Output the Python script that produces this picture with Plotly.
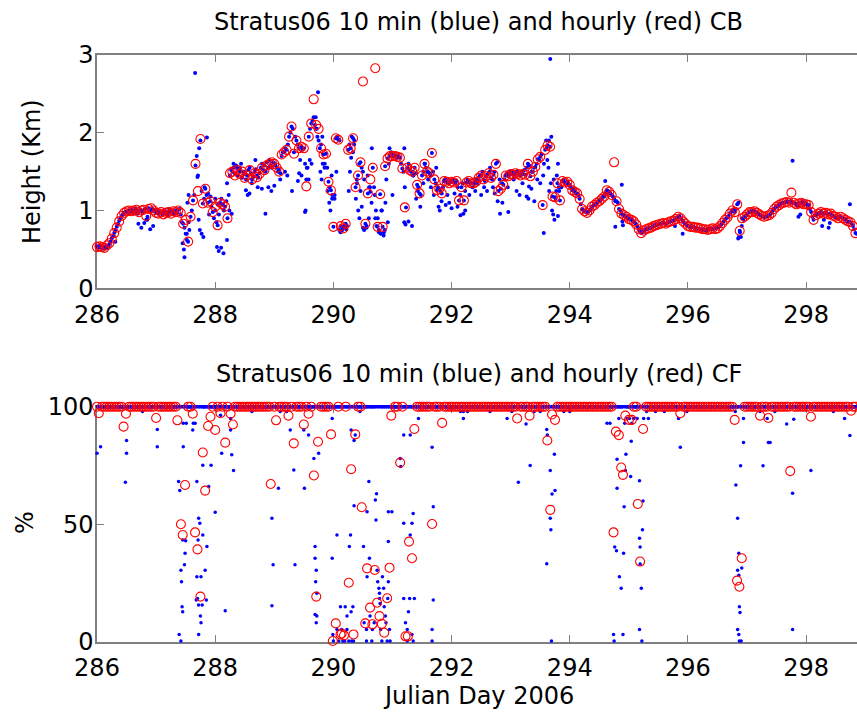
import numpy as np
import plotly.graph_objects as go

# ---------------- DATA ----------------
# Cloud base (km), hourly (red), one list per Julian day (hour 0..23)
cb_hourly_286 = [0.53,0.54,0.53,0.52,0.55,0.58,0.64,0.71,0.78,0.86,0.93,0.97,0.99,1.00,0.99,1.00,1.01,0.98,1.00,1.01,0.93,1.02,1.03,1.00]
cb_hourly_287 = [0.97,0.96,0.98,0.95,0.97,0.98,0.96,0.99,0.98,1.00,0.97,0.83,0.88,0.60,0.92,1.13,1.60,1.25,1.92,1.09,1.28,1.10,1.12,0.98]
cb_hourly_288 = [1.05,0.81,1.10,1.08,1.05,0.90,1.48,1.50,1.45,1.52,1.47,1.50,1.42,1.45,1.52,1.40,1.48,1.43,1.47,1.55,1.52,1.58,1.60,1.62]
cb_hourly_289 = [1.60,1.55,1.50,1.72,1.75,1.78,1.95,2.08,1.73,1.90,1.80,1.82,1.80,1.31,1.95,2.12,2.43,2.10,2.05,1.80,1.72,1.73,1.37,1.26]
cb_hourly_290 = [0.79,1.93,1.91,0.80,0.77,0.83,1.78,1.80,1.93,1.30,1.45,1.62,2.66,0.83,1.22,1.40,1.55,2.83,0.79,1.21,0.79,1.57,1.67,1.70]
cb_hourly_291 = [1.70,1.70,1.69,1.68,1.54,1.04,1.55,1.52,1.50,1.55,1.33,1.22,1.45,1.60,1.50,1.48,1.74,1.40,1.26,1.28,1.22,1.38,1.37,1.35]
cb_hourly_292 = [1.37,1.36,1.38,1.13,1.30,1.13,1.36,1.38,1.35,1.35,1.37,1.42,1.45,1.40,1.44,1.48,1.42,1.46,1.60,1.25,1.28,1.33,1.45,1.44]
cb_hourly_293 = [1.47,1.46,1.48,1.47,1.45,1.47,1.46,1.60,1.44,1.50,1.56,1.66,1.69,1.07,1.78,1.84,1.82,1.18,1.17,1.35,1.13,1.38,1.36,1.37]
cb_hourly_294 = [1.33,1.26,1.24,1.22,1.15,1.02,0.99,0.97,1.00,1.05,1.07,1.10,1.12,1.15,1.18,1.26,1.24,1.20,1.62,1.12,1.02,0.96,0.94,0.92]
cb_hourly_295 = [0.89,0.88,0.86,0.82,0.76,0.71,0.74,0.76,0.77,0.78,0.80,0.81,0.82,0.83,0.84,0.83,0.85,0.86,0.87,0.89,0.92,0.90,0.86,0.83]
cb_hourly_296 = [0.80,0.79,0.79,0.78,0.78,0.77,0.76,0.76,0.75,0.76,0.77,0.76,0.77,0.80,0.84,0.88,0.91,0.96,1.00,0.98,1.08,0.74,0.90,0.92]
cb_hourly_297 = [0.95,0.98,0.98,0.99,0.97,0.95,0.93,0.92,0.93,0.94,0.97,1.02,1.05,1.07,1.09,1.10,1.11,1.10,1.23,1.10,1.08,1.09,1.10,1.08]
cb_hourly_298 = [1.08,1.07,0.98,0.88,0.94,0.96,0.98,0.96,0.97,0.95,0.96,0.93,0.92,0.90,0.92,0.90,0.88,0.86,0.85,0.80,0.71]

# Cloud base (km), 10-min product (blue) read every 30 min along the main band
cb_10min_286 = [0.54,0.52,0.53,0.55,0.52,0.51,0.53,0.54,0.52,0.54,0.57,0.60,
                0.64,0.67,0.71,0.75,0.79,0.83,0.87,0.90,0.93,0.95,0.97,0.98,
                0.98,0.99,1.00,0.98,1.01,0.99,0.97,1.02,1.00,0.96,0.99,1.01,
                1.00,0.97,1.00,1.02,0.88,0.92,1.03,1.00,0.99,1.02,1.00,1.01]
cb_10min_287 = [0.97,0.99,0.96,0.98,0.97,0.95,0.98,1.00,0.96,0.94,0.98,1.01,
                0.97,0.99,0.96,0.98,1.00,0.97,1.01,1.02,0.95,0.85,0.83,0.78,
                0.70,0.62,0.60,0.75,0.92,1.00,1.13,1.20,1.58,1.70,1.45,1.80,
                1.90,1.25,1.09,1.15,1.28,1.20,1.10,0.95,1.12,1.05,0.98,0.90]
cb_10min_288 = [1.00,0.85,0.81,0.95,1.10,1.15,1.08,1.00,1.05,1.12,0.90,1.20,
                1.45,1.52,1.50,1.55,1.48,1.58,1.45,1.52,1.55,1.60,1.42,1.50,
                1.47,1.40,1.45,1.52,1.55,1.48,1.40,1.43,1.50,1.53,1.45,1.42,
                1.48,1.55,1.60,1.52,1.58,1.50,1.62,1.55,1.65,1.58,1.55,1.62]
cb_10min_289 = [1.60,1.58,1.55,1.50,1.52,1.48,1.70,1.75,1.75,1.80,1.78,1.85,
                1.95,2.00,2.08,2.05,1.75,1.95,1.90,1.85,1.80,1.65,1.82,1.78,
                1.80,1.60,1.40,1.55,1.95,2.05,2.12,2.15,2.20,2.10,2.05,1.95,
                1.90,1.80,1.85,1.95,1.72,1.60,1.73,1.55,1.37,1.30,1.26,1.15]
cb_10min_290 = [0.79,1.20,1.93,1.95,1.91,1.90,0.80,0.75,0.77,0.78,0.83,0.80,
                1.78,1.85,1.80,1.95,1.93,1.90,1.30,1.40,1.45,1.60,1.62,1.55,
                1.50,1.40,0.83,0.80,1.22,1.30,1.24,1.10,1.55,1.30,0.90,0.80,
                0.79,0.75,1.21,1.00,0.79,0.72,1.57,1.40,1.67,1.60,1.70,1.72]
cb_10min_291 = [1.70,1.72,1.70,1.68,1.69,1.70,1.68,1.60,1.54,1.50,1.30,1.04,
                1.55,1.60,1.52,1.50,1.50,1.45,1.55,1.48,1.33,1.30,1.22,1.20,
                1.45,1.50,1.60,1.55,1.50,1.40,1.48,1.45,1.74,1.50,1.40,1.35,
                1.26,1.30,1.28,1.25,1.22,1.30,1.38,1.40,1.37,1.35,1.35,1.38]
cb_10min_292 = [1.37,1.40,1.36,1.35,1.38,1.30,1.13,1.20,1.30,1.35,1.13,1.25,
                1.36,1.40,1.38,1.35,1.35,1.30,1.35,1.40,1.37,1.35,1.42,1.45,
                1.45,1.50,1.40,1.38,1.44,1.46,1.48,1.50,1.42,1.40,1.46,1.50,
                1.60,1.62,1.25,1.40,1.28,1.35,1.33,1.40,1.45,1.48,1.44,1.50]
cb_10min_293 = [1.47,1.50,1.46,1.45,1.48,1.50,1.47,1.45,1.45,1.50,1.47,1.52,
                1.46,1.55,1.60,1.58,1.44,1.50,1.50,1.55,1.56,1.60,1.66,1.65,
                1.69,1.72,1.07,1.60,1.78,1.80,1.84,1.90,1.82,1.95,1.18,1.40,
                1.17,1.25,1.35,1.30,1.13,1.30,1.38,1.40,1.36,1.35,1.37,1.33]
cb_10min_294 = [1.33,1.30,1.26,1.28,1.24,1.22,1.22,1.20,1.15,1.08,1.02,1.00,
                0.99,0.98,0.97,0.98,1.00,1.02,1.05,1.06,1.07,1.08,1.10,1.12,
                1.12,1.14,1.15,1.18,1.18,1.22,1.26,1.25,1.24,1.22,1.20,1.18,
                1.15,1.12,1.12,1.10,1.02,1.00,0.96,0.95,0.94,0.93,0.92,0.90]
cb_10min_295 = [0.89,0.90,0.88,0.87,0.86,0.84,0.82,0.79,0.76,0.73,0.71,0.72,
                0.74,0.75,0.76,0.77,0.77,0.78,0.78,0.79,0.80,0.81,0.81,0.82,
                0.82,0.83,0.83,0.84,0.84,0.83,0.83,0.84,0.85,0.86,0.86,0.87,
                0.87,0.88,0.89,0.90,0.92,0.93,0.90,0.88,0.86,0.84,0.83,0.81]
cb_10min_296 = [0.80,0.79,0.79,0.80,0.79,0.78,0.78,0.77,0.77,0.76,0.76,0.75,
                0.76,0.76,0.75,0.74,0.76,0.77,0.77,0.76,0.76,0.77,0.77,0.78,
                0.78,0.79,0.80,0.82,0.84,0.86,0.88,0.90,0.91,0.93,0.96,0.98,
                1.00,1.01,0.98,1.02,1.08,1.10,0.74,0.66,0.90,0.88,0.92,0.93]
cb_10min_297 = [0.95,0.97,0.98,0.99,0.98,1.00,0.99,0.97,0.97,0.96,0.95,0.94,
                0.93,0.92,0.92,0.92,0.93,0.93,0.94,0.96,0.97,1.00,1.02,1.04,
                1.05,1.06,1.07,1.08,1.09,1.10,1.10,1.11,1.11,1.12,1.10,1.11,
                1.12,1.10,1.10,1.09,1.08,1.06,1.09,1.10,1.10,1.12,1.08,1.09]
cb_10min_298 = [1.08,1.06,1.07,1.02,0.98,0.92,0.88,0.94,0.94,0.95,0.96,0.97,
                0.98,0.96,0.96,0.97,0.97,0.95,0.95,0.96,0.96,0.93,0.93,0.92,
                0.92,0.90,0.90,0.92,0.92,0.91,0.90,0.89,0.88,0.86,0.86,0.85,
                0.85,0.83,0.80,0.76,0.71,0.70]

# scattered 10-min cloud-base values away from the main band: (julian day, km)
cb_10min_scatter = [
    (286.31,0.60),(286.70,0.83),(286.75,0.78),(286.80,0.84),(286.85,0.88),(286.90,0.76),(286.95,0.80),
    (287.45,0.58),(287.47,0.50),(287.48,0.40),(287.52,0.70),(287.53,1.10),(287.55,0.85),(287.55,1.20),
    (287.66,2.77),(287.70,1.43),(287.72,0.88),(287.74,0.75),(287.77,0.70),(287.80,0.66),(287.86,1.94),
    (287.82,1.30),(287.88,1.22),(287.92,1.18),(288.03,0.53),(288.06,0.48),(288.10,0.52),(288.14,0.45),
    (288.20,0.62),(288.00,1.15),(288.05,1.08),(288.20,1.35),(288.24,1.00),(288.28,0.96),(288.31,1.60),
    (288.36,1.55),(288.42,1.50),
    (288.52,1.26),(288.55,1.20),(288.58,1.22),(288.62,1.35),(288.68,1.65),(288.72,1.30),(288.79,1.28),
    (288.85,0.96),(288.90,1.30),(288.95,1.25),(289.00,1.32),(289.10,1.40),(289.18,1.50),(289.22,1.45),
    (289.30,1.25),(289.40,1.38),(289.42,1.48),(289.46,1.45),(289.52,0.98),(289.53,1.00),(289.55,1.55),
    (289.58,1.40),(289.60,1.65),(289.63,1.60),(289.74,2.52),(289.70,2.20),(289.72,2.05),(289.78,1.50),
    (289.80,1.40),(289.82,1.60),(289.85,1.55),(289.90,1.25),(289.93,1.10),(289.95,1.00),(289.97,1.45),
    (289.98,1.20),(290.02,1.15),(290.05,1.50),(290.10,0.75),(290.12,0.72),(290.14,0.74),(290.18,0.80),
    (290.22,0.76),(290.26,1.25),(290.28,1.50),(290.30,1.68),(290.35,1.85),(290.33,1.75),(290.38,1.15),
    (290.40,1.35),(290.42,1.00),(290.44,0.90),(290.46,1.25),(290.48,1.05),(290.50,0.78),(290.52,0.75),
    (290.56,0.78),(290.58,1.45),(290.60,0.90),(290.62,1.30),(290.65,1.80),(290.70,1.20),(290.72,1.00),
    (290.75,0.90),(290.77,0.72),(290.80,0.70),(290.82,1.00),(290.85,0.68),(290.87,0.75),(290.88,1.10),
    (290.92,0.85),(290.95,1.80),(290.98,1.75),(291.00,1.20),
    (291.20,1.80),(291.20,0.85),(291.22,0.82),(291.27,0.86),(291.33,0.80),(291.35,1.45),(291.40,1.15),
    (291.43,1.25),(291.47,1.05),(291.52,1.35),(291.55,1.60),(291.60,1.50),(291.65,1.30),(291.70,1.20),
    (291.74,1.55),(291.78,1.05),(291.80,1.00),(291.83,1.12),(291.87,1.38),(291.90,1.07),(291.93,1.20),
    (291.96,1.10),(292.00,1.03),(292.05,1.22),(292.10,1.05),(292.15,0.94),(292.20,0.96),(292.23,1.00),
    (292.30,1.20),(292.40,1.25),(292.45,1.40),(292.50,1.20),(292.55,1.30),(292.60,1.25),(292.65,1.55),
    (292.70,1.30),(292.73,1.22),(292.78,1.12),(292.82,0.96),(292.86,1.10),(292.96,0.98),(292.95,1.30),
    (293.05,1.40),(293.10,1.25),(293.15,1.20),(293.20,1.35),(293.27,1.18),(293.31,1.31),(293.30,1.15),
    (293.35,1.28),(293.40,1.12),(293.45,1.40),(293.50,1.35),(293.55,1.45),(293.56,0.71),(293.60,1.90),
    (293.62,1.65),(293.64,1.55),(293.65,1.25),(293.67,2.95),(293.68,1.35),(293.70,1.00),(293.72,0.95),
    (293.74,0.88),(293.76,1.15),(293.78,1.45),(293.80,0.93),(293.80,1.60),(293.82,1.25),(293.85,1.30),
    (294.60,1.38),(294.77,0.79),(294.88,1.33),(294.89,0.86),(294.90,0.81),
    (295.78,0.80),(295.91,0.70),
    (296.85,0.64),(296.86,0.66),(296.88,0.72),(296.91,0.80),
    (297.77,1.64),(297.87,0.92),(297.90,0.95),(298.27,0.80),(298.30,0.88),(298.38,0.78),(298.40,0.84),
    (298.74,1.08),
]

# Cloud fraction (%): 100 everywhere except the readings listed below (julian day, %)
cf_hourly_below100 = [
    (286.03,97.2),(286.45,91.5),(286.49,97.0),(287.00,95.2),(287.36,94.2),(287.42,50.0),(287.45,45.4),
    (287.49,66.7),(287.62,97.0),(287.66,46.5),(287.70,39.3),(287.75,19.2),(287.79,80.5),(287.83,64.3),
    (287.88,91.8),(287.92,95.7),(288.00,90.1),(288.09,97.2),(288.17,84.7),(288.26,97.0),(288.30,92.4),
    (288.94,67.1),(289.03,94.2),(289.24,96.2),(289.33,84.4),(289.50,92.4),(289.58,97.0),(289.67,70.7),
    (289.71,19.2),(289.74,85.1),(289.96,88.2),(289.99,0.3),(290.04,7.8),(290.12,3.1),(290.14,3.5),
    (290.18,2.7),(290.26,25.1),(290.30,73.4),(290.34,3.1),(290.37,88.2),(290.48,57.2),(290.54,7.8),
    (290.57,31.2),(290.62,14.5),(290.66,7.4),(290.70,30.5),(290.74,16.6),(290.78,10.9),(290.82,7.6),
    (290.86,3.8),(290.91,18.5),(290.95,31.5),(290.98,96.2),(291.13,76.2),(291.22,2.3),(291.26,2.3),
    (291.28,42.6),(291.33,35.5),(291.37,90.5),(291.67,50.1),(291.84,93.1),(293.11,95.0),(293.32,96.2),
    (293.62,85.6),(293.67,56.1),(293.70,96.7),(293.75,94.4),(294.74,46.5),(294.78,89.4),(294.83,87.9),
    (294.87,74.1),(294.90,71.0),(294.94,96.2),(295.00,94.4),(295.05,94.4),(295.15,58.6),(295.19,34.1),
    (295.24,90.5),(295.87,97.2),(296.79,94.4),(296.83,26.0),(296.87,23.4),(296.91,35.5),(297.22,96.2),
    (297.36,95.2),(297.73,72.6),(298.08,95.7),(298.76,98.3),
]
cf_10min_below100 = [
    (286.00,80.2),(286.06,83.0),(286.50,85.6),(286.50,80.2),(286.48,67.9),(286.77,97.9),(287.02,90.3),(287.02,83.0),
    (287.38,68.2),(287.40,64.3),(287.39,3.1),(287.42,0.3),(287.42,30.4),(287.43,25.5),(287.44,14.9),(287.45,12.8),
    (287.45,43.3),(287.49,37.6),(287.48,32.7),(287.50,43.0),(287.46,83.0),(287.46,93.0),(287.51,93.0),
    (287.62,90.1),(287.63,93.0),(287.66,93.0),(287.69,68.2),(287.69,27.6),(287.70,18.4),(287.71,43.3),(287.72,52.5),
    (287.74,50.4),(287.72,3.1),(287.75,10.9),(287.76,8.1),(287.68,17.7),(287.72,15.6),(287.78,15.6),(287.76,27.6),
    (287.79,75.1),(287.79,45.4),(287.83,30.4),(287.85,17.7),(287.86,40.5),(287.89,66.0),(287.93,75.1),
    (288.00,55.1),(288.09,96.4),(288.11,80.2),(288.17,13.2),(288.26,90.1),(288.28,79.5),(288.31,72.8),(288.26,95.0),
    (288.62,97.9),(288.96,52.5),(288.98,32.7),(288.96,15.3),(289.07,65.3),(289.10,97.9),(289.21,97.9),(289.27,90.1),
    (289.35,32.7),(289.33,73.1),(289.50,90.1),(289.51,65.3),(289.58,88.0),
    (289.67,77.9),(289.69,40.5),(289.69,35.5),(289.71,30.4),(289.70,25.5),(289.72,20.6),(289.72,10.9),(289.71,8.1),
    (289.75,80.2),(289.69,11.6),
    (289.98,95.0),(289.98,35.5),(289.99,3.1),(290.00,0.3),(290.06,45.4),(290.06,5.2),(290.09,0.3),(290.12,14.9),
    (290.14,5.2),(290.16,0.3),(290.19,0.3),(290.20,14.9),(290.23,10.9),(290.23,5.2),(290.26,0.3),(290.27,40.5),
    (290.29,45.4),(290.30,12.8),(290.31,0.3),(290.33,14.9),(290.34,0.3),(290.30,90.1),(290.35,85.6),(290.37,88.0),
    (290.35,57.9),(290.45,97.9),(290.51,40.5),(290.52,8.1),(290.56,5.2),(290.56,0.3),(290.57,27.6),(290.57,55.3),
    (290.60,68.2),(290.61,35.5),(290.62,10.9),(290.65,0.3),(290.66,5.2),(290.69,8.1),(290.71,60.3),(290.72,51.8),
    (290.73,63.0),(290.74,30.4),(290.75,25.5),(290.77,22.7),(290.78,20.6),(290.78,18.4),(290.79,16.3),(290.80,5.2),
    (290.82,0.3),(290.83,27.6),(290.85,22.7),(290.86,14.9),(290.88,10.9),(290.89,8.1),(290.91,0.3),(290.92,18.4),
    (290.93,55.3),(290.93,42.6),(290.93,25.5),(290.95,5.2),(290.96,0.3),(290.99,55.3),
    (291.13,77.9),(291.14,74.6),(291.19,88.0),(291.19,18.4),(291.19,50.4),(291.22,8.1),(291.25,5.2),(291.25,0.3),
    (291.27,12.8),(291.29,18.4),(291.30,88.0),(291.30,45.4),(291.33,50.4),(291.35,54.6),(291.37,18.4),(291.35,0.3),
    (291.33,3.1),(291.44,95.0),(291.67,82.7),(291.67,5.2),(291.69,17.7),(291.67,0.3),(291.69,57.4),
    (292.20,95.0),(292.15,97.9),(292.20,97.9),(292.27,97.9),(292.65,97.9),(292.94,95.0),(293.02,97.9),(293.13,67.9),
    (293.26,92.6),(293.33,75.0),(293.40,97.9),(293.50,97.9),(293.61,90.3),(293.62,88.0),(293.61,33.2),(293.67,72.8),
    (293.67,52.5),(293.68,47.6),(293.69,0.3),(293.70,62.9),(293.74,79.8),(293.75,64.3),(293.90,97.9),(294.00,97.9),
    (294.63,93.0),(294.68,93.0),(294.74,3.1),(294.75,0.3),(294.76,40.3),(294.79,38.7),(294.80,77.6),(294.80,65.3),
    (294.83,95.0),(294.84,27.6),(294.87,22.7),(294.90,3.1),(294.91,37.6),(294.92,57.4),(294.93,93.0),(294.94,72.8),
    (294.95,79.8),(294.97,95.0),(295.01,95.0),(295.04,85.3),(295.03,70.3),(295.05,93.0),(295.08,95.0),(295.14,95.0),
    (295.18,68.5),(295.18,44.0),(295.18,5.2),(295.19,40.3),(295.19,33.1),(295.21,22.7),(295.22,0.3),(295.23,47.6),
    (295.24,59.9),(295.25,95.0),(295.33,95.0),(295.30,97.9),(295.45,97.9),(295.60,97.9),(295.84,95.0),(295.87,82.7),
    (295.98,97.9),
    (296.80,97.9),(296.81,66.7),(296.84,52.5),(296.86,37.6),(296.84,30.4),(296.86,28.3),(296.87,14.9),(296.88,12.4),
    (296.84,5.2),(296.86,3.1),(296.87,0.3),(296.90,0.3),(296.91,31.4),(296.89,74.9),(296.94,84.8),(296.94,95.0),
    (297.22,97.9),(297.27,74.9),(297.34,95.0),(297.36,84.8),(297.39,84.8),(297.47,97.9),(297.67,92.6),(297.77,63.2),
    (297.77,5.2),(297.79,94.6),(298.08,72.8),(298.46,97.9),(298.65,95.0),(298.74,87.7),
]

day_ticks = [286, 288, 290, 292, 294, 296, 298]
cb_ticks = [0, 1, 2, 3]
cf_ticks = [0, 50, 100]
x_end = 298.86  # last day shown (plot is cut at the right)

# ---------------- BUILD SERIES ----------------
hourly_days = list(zip(range(286, 299), [cb_hourly_286, cb_hourly_287, cb_hourly_288, cb_hourly_289, cb_hourly_290,
                                         cb_hourly_291, cb_hourly_292, cb_hourly_293, cb_hourly_294, cb_hourly_295,
                                         cb_hourly_296, cb_hourly_297, cb_hourly_298]))
tenmin_days = list(zip(range(286, 299), [cb_10min_286, cb_10min_287, cb_10min_288, cb_10min_289, cb_10min_290,
                                         cb_10min_291, cb_10min_292, cb_10min_293, cb_10min_294, cb_10min_295,
                                         cb_10min_296, cb_10min_297, cb_10min_298]))
t_red, v_red = [], []
for d, vals in hourly_days:
    t_red += [d + i / 24 for i in range(len(vals))]
    v_red += vals
t_blue, v_blue = [], []
for d, vals in tenmin_days:
    t_blue += [d + i / 48 for i in range(len(vals))]
    v_blue += vals
t_blue += [p[0] for p in cb_10min_scatter]
v_blue += [p[1] for p in cb_10min_scatter]


def cf_series(step, exceptions):
    times = 286 + np.arange(0, int((x_end - 286) / step) + 1) * step
    keep = np.ones(len(times), bool)
    for d, _ in exceptions:
        keep[int(np.argmin(np.abs(times - d)))] = False
    t = list(times[keep]) + [e[0] for e in exceptions]
    v = [100.0] * int(keep.sum()) + [e[1] for e in exceptions]
    return t, v


t_cf_red, v_cf_red = cf_series(1 / 24, cf_hourly_below100)
t_cf_blue, v_cf_blue = cf_series(1 / 144, cf_10min_below100)

# ---------------- FIGURE ----------------
FONT = "DejaVu Sans"
BLUE = "#0000ff"
RED = "#ff0000"
blue_marker = dict(color=BLUE, size=4, line=dict(width=0))
red_marker = dict(symbol="circle-open", color=RED, size=9, line=dict(width=1.1, color=RED))

fig = go.Figure()
fig.add_trace(go.Scatter(x=t_blue, y=v_blue, mode="markers", marker=blue_marker, xaxis="x", yaxis="y", cliponaxis=False))
fig.add_trace(go.Scatter(x=t_red, y=v_red, mode="markers", marker=red_marker, xaxis="x", yaxis="y", cliponaxis=False))
fig.add_trace(go.Scatter(x=t_cf_blue, y=v_cf_blue, mode="markers", marker=dict(blue_marker, size=3.5), xaxis="x2", yaxis="y2", cliponaxis=False))
fig.add_trace(go.Scatter(x=t_cf_red, y=v_cf_red, mode="markers", marker=red_marker, xaxis="x2", yaxis="y2", cliponaxis=False))

AX = "#808080"
common = dict(showline=True, linecolor=AX, linewidth=1.5, ticks="inside", ticklen=7, tickwidth=1.2, tickcolor=AX,
              showgrid=False, zeroline=False, layer="below traces", automargin=False,
              tickfont=dict(family=FONT, size=24, color="black"))
xcommon = dict(common, range=[286, x_end], tickvals=day_ticks, mirror="ticks", ticklabelstandoff=4)
ycommon = dict(common, mirror=False, ticklabelstandoff=-3)

fig.update_layout(
    width=857, height=717, margin=dict(l=97, r=0, t=0, b=0, autoexpand=False),
    paper_bgcolor="white", plot_bgcolor="white", showlegend=False,
    xaxis=dict(xcommon, domain=[0, 1], anchor="y"),
    yaxis=dict(ycommon, domain=[0.5979, 0.9233], range=[0, 3], tickvals=cb_ticks, anchor="x"),
    xaxis2=dict(xcommon, domain=[0, 1], anchor="y2"),
    yaxis2=dict(ycommon, domain=[0.1050, 0.4328], range=[0, 100], tickvals=cf_ticks, anchor="x2"),
    annotations=[
        dict(text="Stratus06 10 min (blue) and hourly (red) CB", xref="paper", yref="paper", x=0.5026, y=0.9697,
             xanchor="center", yanchor="middle", showarrow=False, font=dict(family=FONT, size=24, color="black")),
        dict(text="Stratus06 10 min (blue) and hourly (red) CF", xref="paper", yref="paper", x=0.5026, y=0.4784,
             xanchor="center", yanchor="middle", showarrow=False, font=dict(family=FONT, size=24, color="black")),
        dict(text="Julian Day 2006", xref="paper", yref="paper", x=0.5026, y=0.0293,
             xanchor="center", yanchor="middle", showarrow=False, font=dict(family=FONT, size=24, color="black")),
        dict(text="Height (Km)", xref="paper", yref="paper", x=-0.0855, y=0.760, textangle=-90,
             xanchor="center", yanchor="middle", showarrow=False, font=dict(family=FONT, size=24, color="black")),
        dict(text="%", xref="paper", yref="paper", x=-0.0947, y=0.2706, textangle=-90,
             xanchor="center", yanchor="middle", showarrow=False, font=dict(family=FONT, size=24, color="black")),
    ],
)

fig.write_html("out.html", config={"displayModeBar": False},
               post_script="document.body.style.margin='0px';")
